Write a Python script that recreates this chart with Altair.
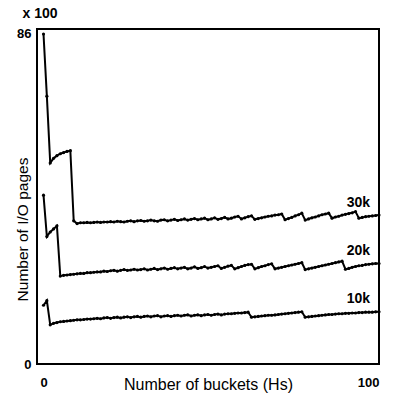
import altair as alt
import pandas as pd

buckets = list(range(0, 101))

io_30k = [86.0, 69.8, 52.4, 53.6, 54.3, 54.8, 55.1, 55.4, 55.6, 37.3, 36.6,
          36.8, 36.8, 36.9, 36.8, 36.9, 37.0, 36.9, 37.0, 37.0, 37.1,
          37.0, 37.2, 37.1, 37.0, 37.2, 37.3, 37.1, 37.3, 37.4, 37.2,
          37.3, 37.5, 37.3, 37.2, 37.5, 37.6, 37.3, 37.5, 37.7, 37.4,
          37.6, 37.8, 37.5, 37.7, 37.9, 37.6, 37.8, 38.0, 37.6, 37.8,
          38.1, 37.7, 37.9, 38.2, 37.8, 38.0, 38.3, 38.5, 37.8, 38.1,
          38.4, 38.6, 37.7, 37.9, 38.1, 38.3, 38.5, 38.6, 38.8, 38.9,
          39.1, 37.6, 37.9, 38.2, 38.6, 38.9, 39.3, 37.5, 37.8, 38.1,
          38.3, 38.6, 38.9, 39.1, 39.3, 38.0, 38.3, 38.5, 38.8, 39.0,
          39.2, 39.4, 39.7, 38.0, 38.2, 38.4, 38.5, 38.6, 38.7, 38.8]

io_20k = [44.0, 33.2, 34.4, 35.2, 36.0, 22.9, 23.1, 23.2, 23.3, 23.4, 23.5,
          23.6, 23.6, 23.8, 23.8, 23.9, 24.0, 24.0, 24.2, 24.1, 24.3,
          24.4, 24.2, 24.4, 24.6, 24.4, 24.5, 24.7, 24.5, 24.6, 24.8,
          24.5, 24.7, 24.9, 24.6, 24.8, 25.0, 24.7, 24.9, 25.1, 24.8,
          25.0, 25.2, 24.8, 25.0, 25.3, 24.9, 25.1, 25.4, 25.0, 25.2,
          25.4, 25.6, 24.9, 25.2, 25.5, 25.7, 24.8, 25.1, 25.4, 25.7,
          25.9, 26.0, 24.8, 25.1, 25.4, 25.6, 25.9, 26.1, 24.8, 25.0,
          25.2, 25.4, 25.6, 25.8, 26.0, 26.2, 26.4, 24.6, 24.8, 25.0,
          25.2, 25.4, 25.6, 25.8, 26.0, 26.2, 26.4, 26.6, 26.8, 24.7,
          24.9, 25.2, 25.4, 25.6, 25.7, 25.9, 26.0, 26.1, 26.2, 26.2]

io_10k = [15.3, 16.5, 10.2, 10.6, 10.8, 11.0, 11.1, 11.2, 11.3, 11.4, 11.5,
          11.5, 11.6, 11.7, 11.7, 11.8, 11.9, 11.8, 12.0, 12.1, 11.9,
          12.1, 12.2, 12.0, 12.2, 12.3, 12.1, 12.3, 12.4, 12.2, 12.4,
          12.5, 12.3, 12.5, 12.6, 12.3, 12.5, 12.6, 12.4, 12.6, 12.7,
          12.5, 12.7, 12.8, 12.5, 12.7, 12.8, 12.6, 12.8, 12.9, 12.7,
          12.9, 13.0, 12.8, 13.0, 13.1, 13.1, 13.2, 13.3, 13.3, 13.4,
          13.5, 12.2, 12.3, 12.4, 12.5, 12.6, 12.7, 12.7, 12.8, 12.9,
          13.0, 13.1, 13.2, 13.3, 13.4, 13.5, 13.6, 12.2, 12.3, 12.4,
          12.5, 12.6, 12.7, 12.8, 12.9, 12.9, 13.0, 13.1, 13.1, 13.2,
          13.2, 13.3, 13.3, 13.4, 13.4, 13.5, 13.5, 13.5, 13.6, 13.6]

series_names = ["30k", "20k", "10k"]
label_offsets = {"30k": -12, "20k": -12, "10k": -13}

rows = []
for name, vals in zip(series_names, [io_30k, io_20k, io_10k]):
    for b, v in zip(buckets, vals):
        rows.append({"buckets": b, "pages": v, "series": name})
df = pd.DataFrame(rows)

FONT = "Liberation Sans"

xscale = alt.Scale(domain=[-1.94, 100], nice=False, zero=False)
yscale = alt.Scale(domain=[0, 87.3], nice=False, zero=False)

x_enc = alt.X("buckets:Q", scale=xscale,
              axis=alt.Axis(values=[0, 100], ticks=False, grid=False, domain=False,
                            labelPadding=12, labelFontSize=13, labelFont=FONT,
                            labelFontWeight="bold", labelColor="black",
                            title="Number of buckets (Hs)", titleFont=FONT,
                            titleFontSize=16, titleFontWeight="normal",
                            titleColor="black", titleY=25, titleBaseline="alphabetic"))
y_enc = alt.Y("pages:Q", scale=yscale,
              axis=alt.Axis(values=[0, 86], ticks=False, grid=False, domain=False,
                            labelPadding=6, labelFontSize=13, labelFont=FONT,
                            labelFontWeight="bold", labelColor="black",
                            title="Number of I/O pages", titleFont=FONT,
                            titleFontSize=15.5, titleFontWeight="normal",
                            titleColor="black", titleAngle=270, titleX=-15,
                            titleY=200, titleBaseline="middle", titleAlign="center"))

lines = alt.Chart(df).mark_line(
    color="black", strokeWidth=2,
    point=alt.OverlayMarkDef(filled=True, color="black", size=10)
).encode(x=x_enc, y=y_enc, detail="series:N")

last = df[df["buckets"] == 100]
label_layers = []
for name in series_names:
    label_layers.append(
        alt.Chart(last[last["series"] == name]).mark_text(
            align="right", baseline="middle", dx=-9, dy=label_offsets[name],
            font=FONT, fontSize=14, fontWeight="bold", color="black"
        ).encode(x=alt.X("buckets:Q", scale=xscale),
                 y=alt.Y("pages:Q", scale=yscale),
                 text="series:N")
    )

multiplier = alt.Chart(pd.DataFrame({"t": ["x 100"]})).mark_text(
    align="center", baseline="middle", font=FONT, fontSize=14,
    fontWeight="bold", color="black"
).encode(x=alt.value(3), y=alt.value(-15), text="t:N")

chart = alt.layer(lines, *label_layers, multiplier).properties(
    width=342, height=335,
    autosize=alt.AutoSizeParams(type="none"),
    padding={"left": 37, "top": 29, "right": 16, "bottom": 34},
).configure_view(stroke="black", strokeWidth=2)

chart.save("out.html", embed_options={"renderer": "svg", "actions": False})
